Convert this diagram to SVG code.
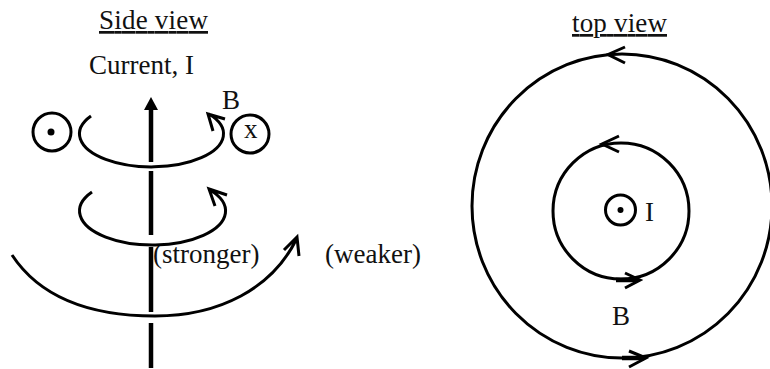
<svg xmlns="http://www.w3.org/2000/svg" width="770" height="369" viewBox="0 0 770 369">
<style>
text{font-family:"Liberation Serif","Times New Roman",serif;font-size:27px;fill:#111}
.u{text-decoration:underline}
.l{fill:none;stroke:#000;stroke-width:3}
.t{stroke-width:4.500}
.d{fill:#000;stroke:none}
</style>
<rect width="770" height="369" fill="#fff"/>
<g id="labels">
<text class="u" x="99" y="29" textLength="109">Side view</text>
<text x="89" y="74">Current, I</text>
<text x="222" y="109">B</text>
<text x="153" y="263">(stronger)</text>
<text x="325" y="263">(weaker)</text>
<text class="u" x="572" y="32" textLength="95">top view</text>
<text x="645" y="221">I</text>
<text x="612" y="325">B</text>
</g>
<g id="connectors">
<path class="l t" d="M151 107V162M151 171V235M151 247V312M151 323V368"/>
<path class="d" d="M151 97l7 13h-14z"/>
<path class="l" d="M91 116A72 33 0 1 0 209 114M225 119L208 114L213 131"/>
<path class="l" d="M92 192A73 34 0 1 0 210 190M227 195L209 189L215 206"/>
<path class="l" d="M12 255C45 305 105 316 155 316C220 316 272 288 296 240M284 250L297 237L299 256"/>
</g>
<g id="wire-out-left"><circle class="l" cx="52" cy="132" r="19"/><circle class="d" cx="51" cy="132" r="3.500"/></g>
<g id="wire-in-right"><circle class="l" cx="250" cy="134" r="19"/><text x="244" y="138">x</text></g>
<g id="outer-field"><ellipse class="l" cx="622" cy="206" rx="150" ry="152"/><path class="l" d="M625 47L608 54.500L625 63M629 351L646 358L629 367"/><path class="l t" d="M622 358H644"/></g>
<g id="inner-field"><circle class="l" cx="621" cy="211" r="68"/><path class="l" d="M619 136L602 144L619 152M625 273L640 280L625 288"/><path class="l t" d="M616 280H638"/></g>
<g id="wire-center"><circle class="l" cx="620.500" cy="210" r="15"/><circle class="d" cx="620.500" cy="210" r="3"/></g>
</svg>
